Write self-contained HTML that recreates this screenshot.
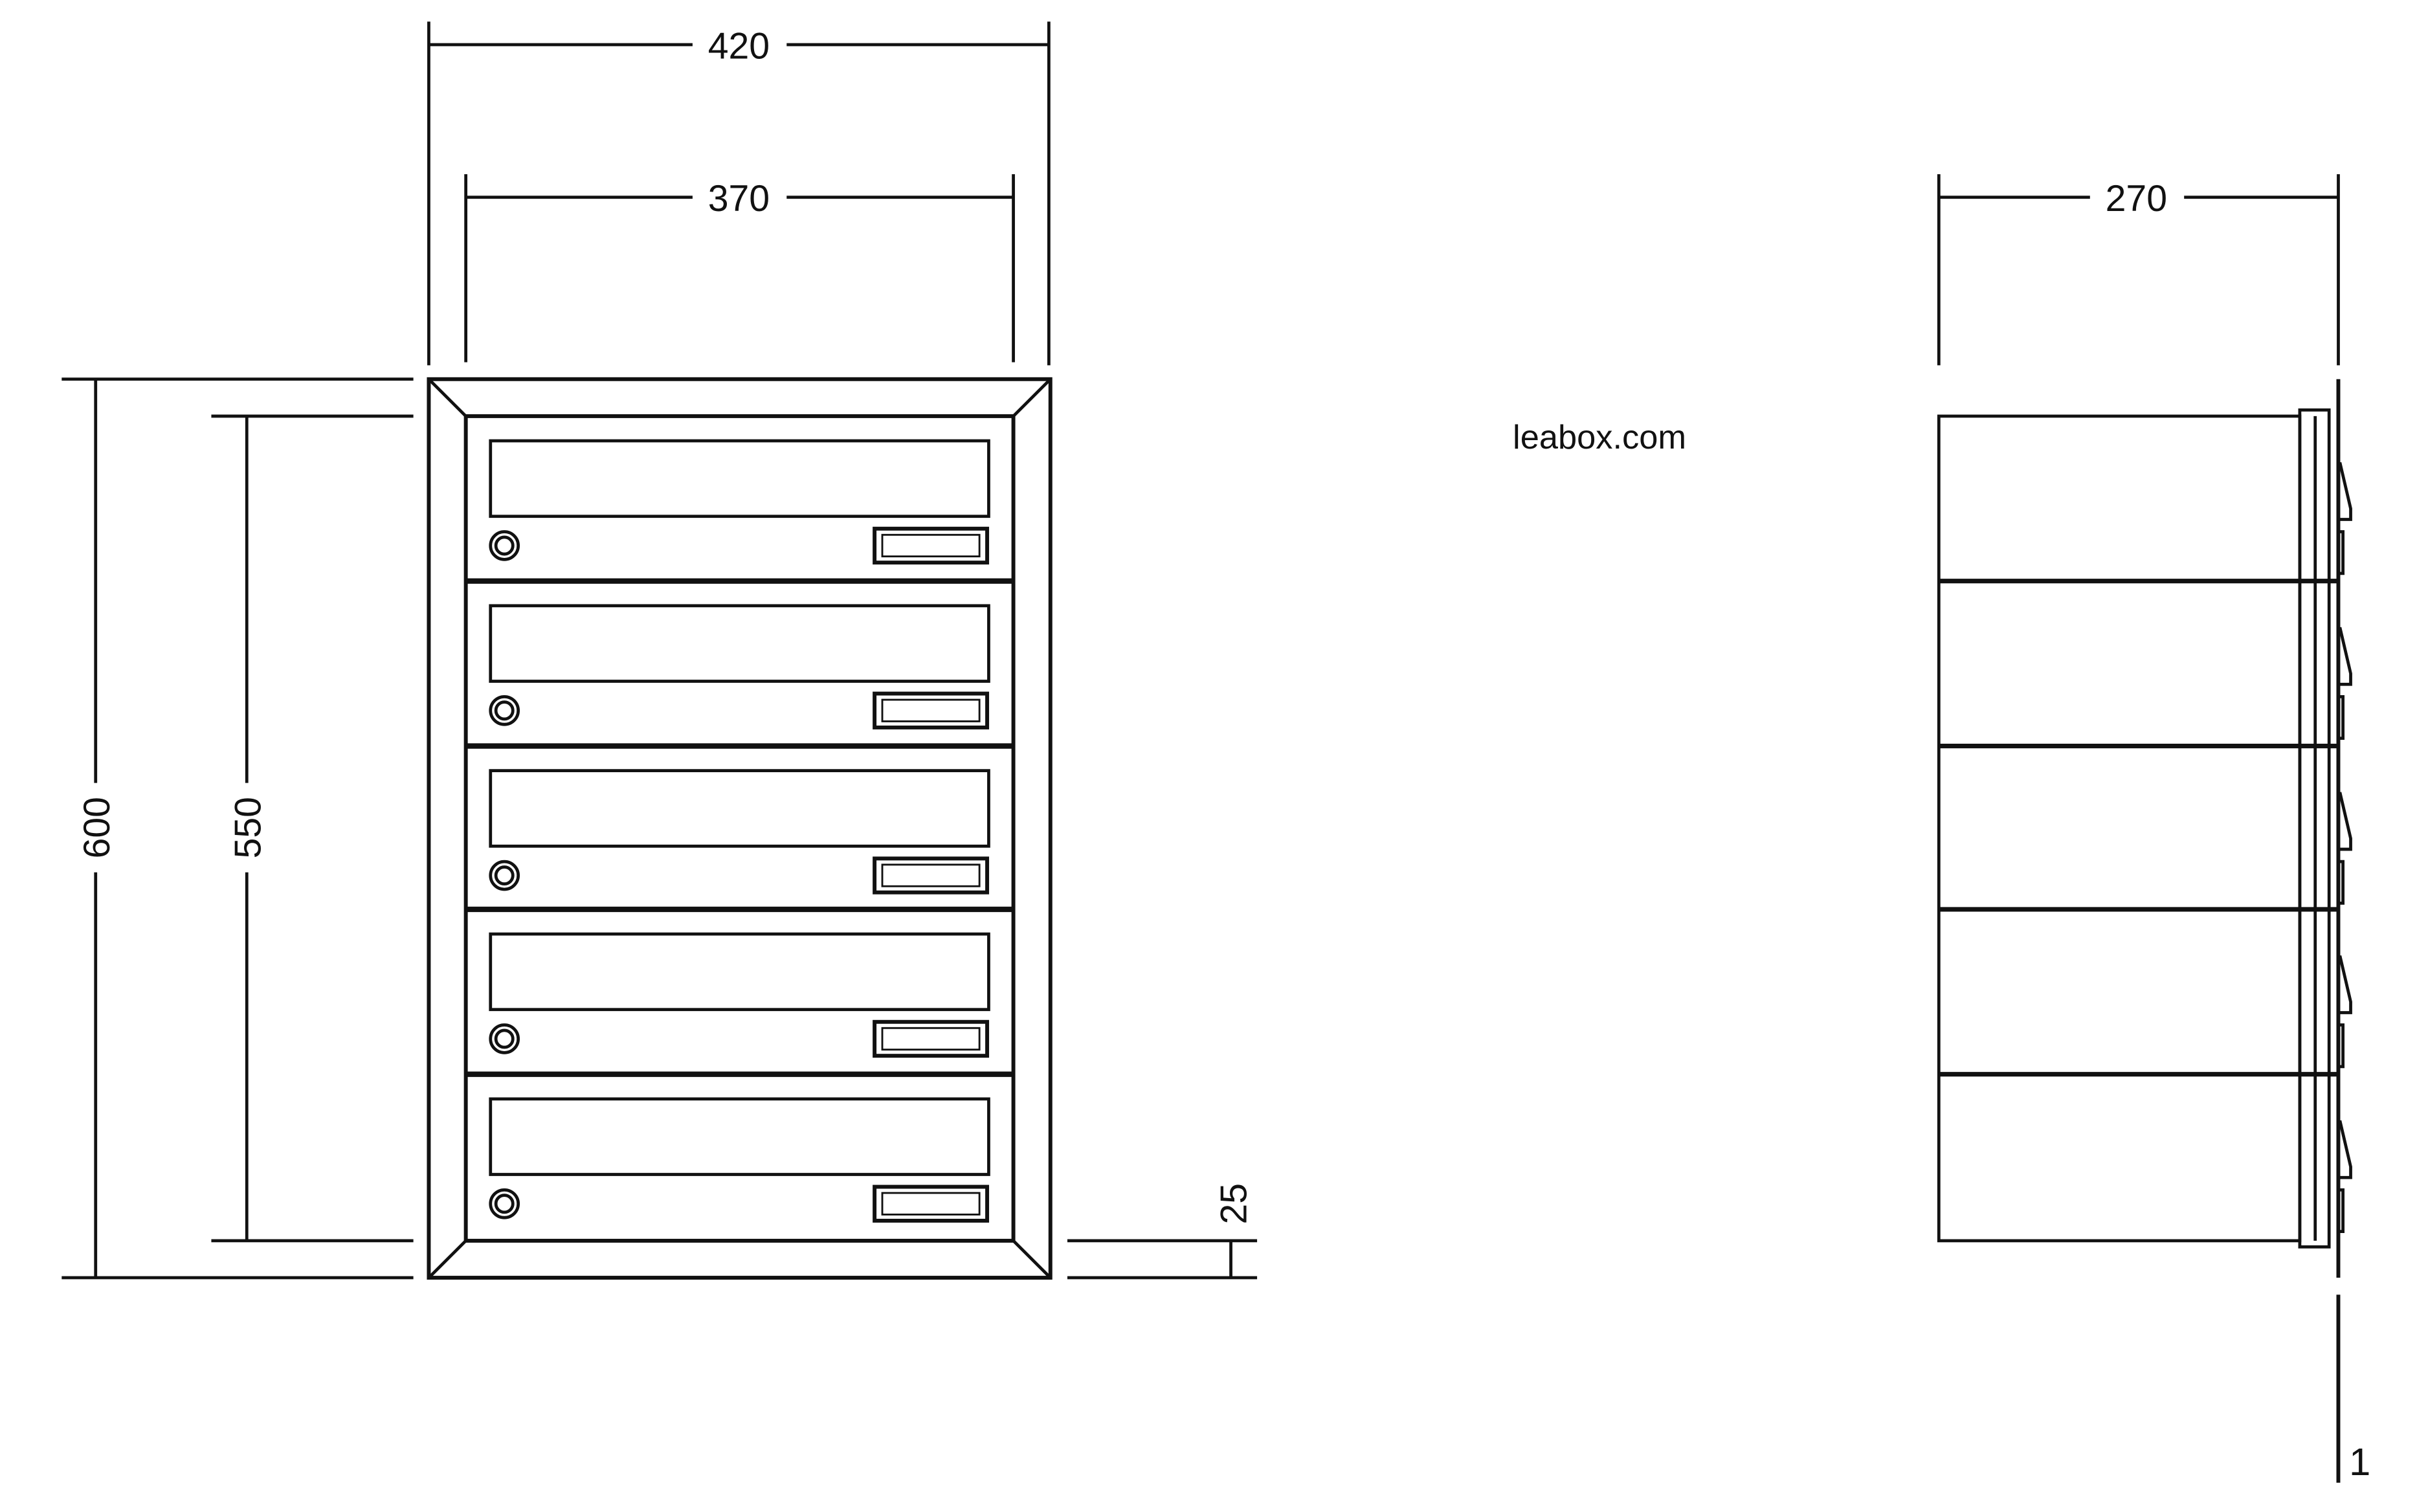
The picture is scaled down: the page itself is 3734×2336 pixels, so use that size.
<!DOCTYPE html>
<html><head><meta charset="utf-8"><style>
html,body{margin:0;padding:0;background:#fff;}
svg{display:block;}
text{font-family:"Liberation Sans",sans-serif;fill:#111;}
</style></head><body>
<svg width="3734" height="2336" viewBox="0 0 1567 981" preserveAspectRatio="none" xmlns="http://www.w3.org/2000/svg">
<g stroke="#111" stroke-width="2" fill="none">
<line x1="278" y1="14" x2="278" y2="237"/><line x1="680" y1="14" x2="680" y2="237"/>
<line x1="278" y1="29" x2="449" y2="29"/><line x1="510" y1="29" x2="680" y2="29"/>
<line x1="302" y1="113" x2="302" y2="235"/><line x1="657" y1="113" x2="657" y2="235"/>
<line x1="302" y1="128" x2="449" y2="128"/><line x1="510" y1="128" x2="657" y2="128"/>
<line x1="40" y1="246" x2="268" y2="246"/><line x1="40" y1="829" x2="268" y2="829"/>
<line x1="62" y1="246" x2="62" y2="508"/><line x1="62" y1="566" x2="62" y2="829"/>
<line x1="137" y1="270" x2="268" y2="270"/><line x1="137" y1="805" x2="268" y2="805"/>
<line x1="160" y1="270" x2="160" y2="508"/><line x1="160" y1="566" x2="160" y2="805"/>
<line x1="692" y1="805" x2="815" y2="805"/><line x1="692" y1="829" x2="815" y2="829"/>
<line x1="798" y1="805" x2="798" y2="829"/>
<rect x="278" y="246" width="403" height="583" stroke-width="2.5"/>
<rect x="302" y="270" width="355" height="535" stroke-width="2.5"/>
<line x1="278" y1="246" x2="302" y2="270"/><line x1="681" y1="246" x2="657" y2="270"/>
<line x1="278" y1="829" x2="302" y2="805"/><line x1="681" y1="829" x2="657" y2="805"/>
<line x1="1257" y1="113" x2="1257" y2="237"/><line x1="1516" y1="113" x2="1516" y2="237"/>
<line x1="1257" y1="128" x2="1355" y2="128"/><line x1="1416" y1="128" x2="1516" y2="128"/>
<rect x="1257" y="270" width="234" height="535"/>
<rect x="1491" y="266" width="19" height="543"/>
<line x1="1501" y1="270" x2="1501" y2="805"/>
<line x1="1516" y1="246" x2="1516" y2="829" stroke-width="2.5"/>
<line x1="1516" y1="840" x2="1516" y2="962" stroke-width="2.5"/>
</g>
<g stroke="#111" fill="none">
<line x1="302" y1="377" x2="657" y2="377" stroke-width="3.5"/>
<line x1="302" y1="484" x2="657" y2="484" stroke-width="3.5"/>
<line x1="302" y1="590" x2="657" y2="590" stroke-width="3.5"/>
<line x1="302" y1="697" x2="657" y2="697" stroke-width="3.5"/>
<line x1="1257" y1="377" x2="1516" y2="377" stroke-width="3"/>
<line x1="1257" y1="484" x2="1516" y2="484" stroke-width="3"/>
<line x1="1257" y1="590" x2="1516" y2="590" stroke-width="3"/>
<line x1="1257" y1="697" x2="1516" y2="697" stroke-width="3"/>
</g>
<g stroke="#111" fill="none" stroke-width="2">
<g transform="translate(0,0)">
<rect x="318" y="286" width="323" height="49"/>
<circle cx="327" cy="354" r="9"/><circle cx="327" cy="354" r="5.5"/>
<rect x="567" y="343" width="73" height="22" stroke-width="2.5"/><rect x="572" y="347" width="63" height="14" stroke-width="1.2"/>
<path d="M1517 300 L1524 330 L1524 337 L1517 337 M1517 345 L1519 345 L1519 372 L1517 372"/>
</g>
<g transform="translate(0,107)">
<rect x="318" y="286" width="323" height="49"/>
<circle cx="327" cy="354" r="9"/><circle cx="327" cy="354" r="5.5"/>
<rect x="567" y="343" width="73" height="22" stroke-width="2.5"/><rect x="572" y="347" width="63" height="14" stroke-width="1.2"/>
<path d="M1517 300 L1524 330 L1524 337 L1517 337 M1517 345 L1519 345 L1519 372 L1517 372"/>
</g>
<g transform="translate(0,214)">
<rect x="318" y="286" width="323" height="49"/>
<circle cx="327" cy="354" r="9"/><circle cx="327" cy="354" r="5.5"/>
<rect x="567" y="343" width="73" height="22" stroke-width="2.5"/><rect x="572" y="347" width="63" height="14" stroke-width="1.2"/>
<path d="M1517 300 L1524 330 L1524 337 L1517 337 M1517 345 L1519 345 L1519 372 L1517 372"/>
</g>
<g transform="translate(0,320)">
<rect x="318" y="286" width="323" height="49"/>
<circle cx="327" cy="354" r="9"/><circle cx="327" cy="354" r="5.5"/>
<rect x="567" y="343" width="73" height="22" stroke-width="2.5"/><rect x="572" y="347" width="63" height="14" stroke-width="1.2"/>
<path d="M1517 300 L1524 330 L1524 337 L1517 337 M1517 345 L1519 345 L1519 372 L1517 372"/>
</g>
<g transform="translate(0,427)">
<rect x="318" y="286" width="323" height="49"/>
<circle cx="327" cy="354" r="9"/><circle cx="327" cy="354" r="5.5"/>
<rect x="567" y="343" width="73" height="22" stroke-width="2.5"/><rect x="572" y="347" width="63" height="14" stroke-width="1.2"/>
<path d="M1517 300 L1524 330 L1524 337 L1517 337 M1517 345 L1519 345 L1519 372 L1517 372"/>
</g>
</g>
<text x="479" y="38" font-size="24" text-anchor="middle">420</text>
<text x="479" y="137" font-size="24" text-anchor="middle">370</text>
<text x="1385" y="137" font-size="24" text-anchor="middle">270</text>
<text x="1037" y="291" font-size="22" text-anchor="middle">leabox.com</text>
<text transform="translate(71,537) rotate(-90)" font-size="24" text-anchor="middle">600</text>
<text transform="translate(169,537) rotate(-90)" font-size="24" text-anchor="middle">550</text>
<text transform="translate(808,781) rotate(-90)" font-size="24" text-anchor="middle">25</text>
<text x="1523" y="957" font-size="25">1</text>
</svg>
</body></html>
